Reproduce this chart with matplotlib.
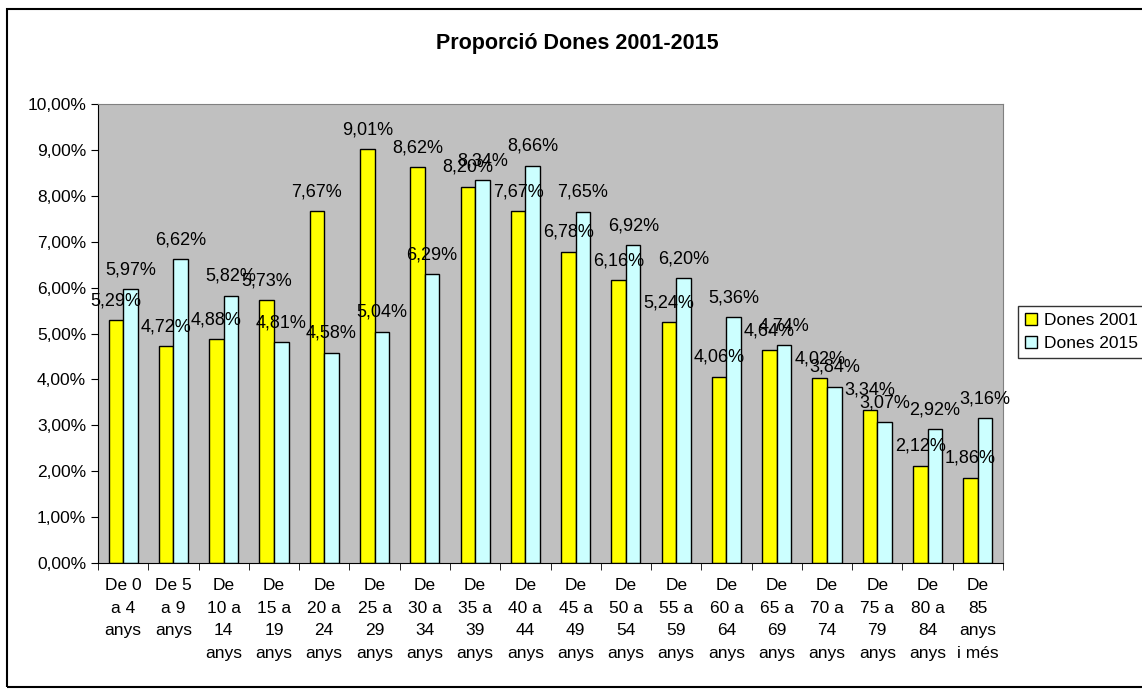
import numpy as np
import matplotlib
matplotlib.use("Agg")
import matplotlib.pyplot as plt
from matplotlib.patches import Rectangle
from matplotlib.ticker import FixedLocator

plt.rcParams['font.family'] = ['Liberation Sans', 'DejaVu Sans']

# age groups (tick labels wrapped as in the original)
categories = ["De 0\na 4\nanys", "De 5\na 9\nanys", "De\n10 a\n14\nanys", "De\n15 a\n19\nanys",
              "De\n20 a\n24\nanys", "De\n25 a\n29\nanys", "De\n30 a\n34\nanys", "De\n35 a\n39\nanys",
              "De\n40 a\n44\nanys", "De\n45 a\n49\nanys", "De\n50 a\n54\nanys", "De\n55 a\n59\nanys",
              "De\n60 a\n64\nanys", "De\n65 a\n69\nanys", "De\n70 a\n74\nanys", "De\n75 a\n79\nanys",
              "De\n80 a\n84\nanys", "De\n85\nanys\ni més"]
dones_2001 = [5.29, 4.72, 4.88, 5.73, 7.67, 9.01, 8.62, 8.20, 7.67, 6.78,
              6.16, 5.24, 4.06, 4.64, 4.02, 3.34, 2.12, 1.86]
dones_2015 = [5.97, 6.62, 5.82, 4.81, 4.58, 5.04, 6.29, 8.34, 8.66, 7.65,
              6.92, 6.20, 5.36, 4.74, 3.84, 3.07, 2.92, 3.16]
yticks = np.arange(0, 10.01, 1.0)

def pct(v):
    return ("%.2f%%" % v).replace(".", ",")

fig = plt.figure(figsize=(11.42, 6.91), dpi=100)
# outer chart frame
fig.patches.append(Rectangle((7 / 1142, 4 / 691), 1.2, 678 / 691, transform=fig.transFigure,
                             fill=False, edgecolor='black', linewidth=1.5))

ax = fig.add_axes([98 / 1142, 1 - 563 / 691, 905 / 1142, 459 / 691])
ax.set_facecolor('#C0C0C0')

x = np.arange(len(categories))
w = 0.29
b1 = ax.bar(x - w / 2, dones_2001, w, color='#FFFF00', edgecolor='black', linewidth=1,
            label='Dones 2001')
b2 = ax.bar(x + w / 2, dones_2015, w, color='#CCFFFF', edgecolor='black', linewidth=1,
            label='Dones 2015')

for bars, vals in ((b1, dones_2001), (b2, dones_2015)):
    for r, v in zip(bars, vals):
        ax.annotate(pct(v), (r.get_x() + r.get_width() / 2, v), xytext=(0, 14),
                    textcoords='offset points', ha='center', va='center', fontsize=13)

ax.set_xlim(-0.5, len(categories) - 0.5)
ax.set_ylim(0, 10)
ax.set_yticks(yticks)
ax.set_yticklabels([pct(v) for v in yticks], fontsize=12.5)
ax.set_xticks(x)
ax.set_xticklabels(categories, fontsize=12.5, linespacing=1.62, va='top')
ax.tick_params(axis='x', which='major', length=0, pad=11)
ax.xaxis.set_minor_locator(FixedLocator(np.arange(-0.5, len(categories), 1.0)))
ax.tick_params(axis='x', which='minor', length=5, direction='out')
ax.tick_params(axis='y', length=5, direction='out')

for s in ('top', 'right'):
    ax.spines[s].set_color('#808080')
for s in ('left', 'bottom'):
    ax.spines[s].set_color('black')

fig.text(577 / 1142, 1 - 43 / 691, "Proporció Dones 2001-2015", ha='center', va='center',
         fontsize=15.5, fontweight='bold')

leg = ax.legend(loc='center left', bbox_to_anchor=(1018 / 1142, 1 - 332 / 691),
                bbox_transform=fig.transFigure, fontsize=12.5, frameon=True, fancybox=False,
                handlelength=0.7, handleheight=0.7, handletextpad=0.4, borderpad=0.4,
                labelspacing=0.5, borderaxespad=0)
leg.get_frame().set_edgecolor('black')
leg.get_frame().set_linewidth(1)

fig.savefig("out.png", dpi=100)
